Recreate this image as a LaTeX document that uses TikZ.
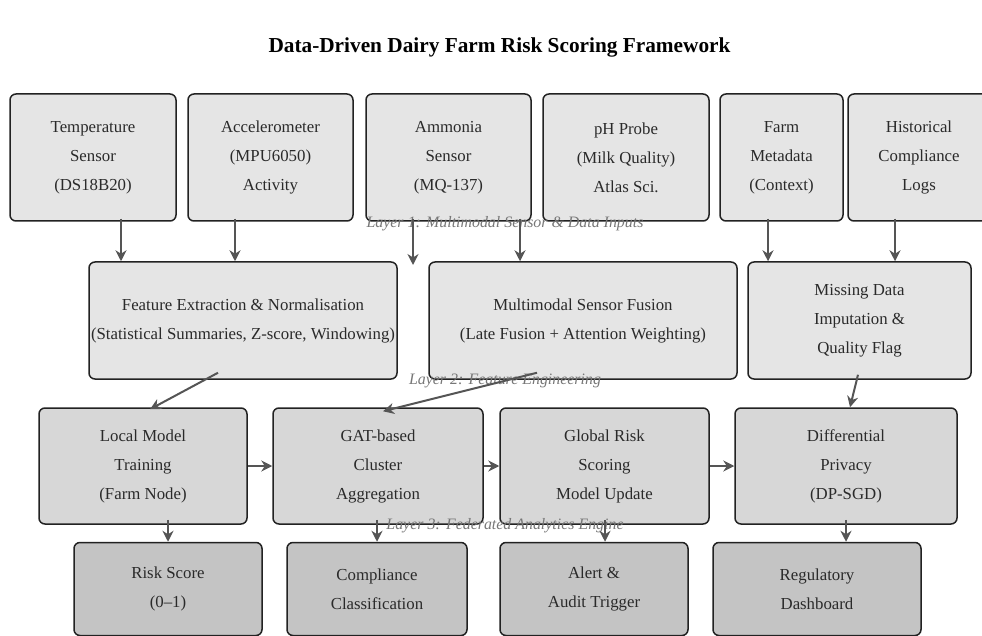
\documentclass[tikz,border=0pt]{standalone}
\usepackage{fontspec}
\setmainfont{Liberation Serif}
\usetikzlibrary{arrows.meta}
\definecolor{fillA}{HTML}{E5E5E5}
\definecolor{fillB}{HTML}{D7D7D7}
\definecolor{fillC}{HTML}{C4C4C4}
\definecolor{edgecol}{HTML}{222222}
\definecolor{txtcol}{HTML}{2A2A2A}
\definecolor{arrcol}{HTML}{555555}
\definecolor{laycol}{HTML}{777777}
\tikzset{
  box/.style={draw=edgecol, line width=1.5pt, rounded corners=6pt, align=center,
    text=txtcol, font=\fontsize{16.8}{29}\selectfont, inner sep=0pt},
  boxA/.style={box, fill=fillA},
  boxB/.style={box, fill=fillB},
  boxC/.style={box, fill=fillC},
  arr/.style={draw=arrcol, line width=2pt, -{Stealth[length=11pt,width=11pt]}},
  layer/.style={text=laycol, font=\fontsize{15.9}{19}\selectfont\itshape},
}
\begin{document}
\begin{tikzpicture}[x=1pt,y=-1pt]
\useasboundingbox (0,0) rectangle (982,636);
\node[font=\fontsize{21.3}{25}\selectfont\bfseries, text=black] (title) at (499.5,47) {Data-Driven Dairy Farm Risk Scoring Framework};
% row 1
\node[boxA, minimum width=166pt, minimum height=127pt] (t1) at (93,157.5) {Temperature\\Sensor\\(DS18B20)};
\node[boxA, minimum width=165pt, minimum height=127pt] (t2) at (270.5,157.5) {Accelerometer\\(MPU6050)\\Activity};
\node[boxA, minimum width=165pt, minimum height=127pt] (t3) at (448.5,157.5) {Ammonia\\Sensor\\(MQ-137)};
\node[boxA, minimum width=166pt, minimum height=127pt] (t4) at (626,157.5) {pH Probe\\(Milk Quality)\\Atlas Sci.};
\node[boxA, minimum width=123pt, minimum height=127pt] (t5) at (781.5,157.5) {Farm\\Metadata\\(Context)};
\node[boxA, minimum width=142pt, minimum height=127pt] (t6) at (919,157.5) {Historical\\Compliance\\Logs};
% row 2
\node[boxA, minimum width=308pt, minimum height=117pt] (f1) at (243,320.5) {Feature Extraction \& Normalisation\\(Statistical Summaries, Z-score, Windowing)};
\node[boxA, minimum width=308pt, minimum height=117pt] (f2) at (583,320.5) {Multimodal Sensor Fusion\\(Late Fusion + Attention Weighting)};
\node[boxA, minimum width=223pt, minimum height=117pt] (f3) at (859.5,320.5) {Missing Data\\Imputation \&\\Quality Flag};
% row 3
\node[boxB, minimum width=208pt, minimum height=116pt] (l1) at (143,466) {Local Model\\Training\\(Farm Node)};
\node[boxB, minimum width=210pt, minimum height=116pt] (l2) at (378,466) {GAT-based\\Cluster\\Aggregation};
\node[boxB, minimum width=209pt, minimum height=116pt] (l3) at (604.5,466) {Global Risk\\Scoring\\Model Update};
\node[boxB, minimum width=222pt, minimum height=116pt] (l4) at (846,466) {Differential\\Privacy\\(DP-SGD)};
% row 4
\node[boxC, minimum width=188pt, minimum height=93pt] (o1) at (168,589) {Risk Score\\(0–1)};
\node[boxC, minimum width=180pt, minimum height=93pt] (o2) at (377,589) {Compliance\\Classification};
\node[boxC, minimum width=188pt, minimum height=93pt] (o3) at (594,589) {Alert \&\\Audit Trigger};
\node[boxC, minimum width=208pt, minimum height=93pt] (o4) at (817,589) {Regulatory\\Dashboard};
% layer labels
\node[layer] (lay1) at (505,224) {Layer 1: Multimodal Sensor \& Data Inputs};
\node[layer] (lay2) at (505,381) {Layer 2: Feature Engineering};
\node[layer] (lay3) at (505,526) {Layer 3: Federated Analytics Engine};
\coordinate (gap) at (413,265);
% arrows row1 -> row2
\draw[arr] ([xshift=28pt,yshift=3pt]t1.south) -- ([xshift=-122pt]f1.north);
\draw[arr] ([xshift=-35.5pt,yshift=3pt]t2.south) -- ([xshift=-8pt]f1.north);
\draw[arr] ([xshift=-35.5pt,yshift=3pt]t3.south) -- (gap);
\draw[arr] ([xshift=71.5pt,yshift=3pt]t3.south) -- ([xshift=-63pt]f2.north);
\draw[arr] ([xshift=-13.5pt,yshift=3pt]t5.south) -- ([xshift=-91.5pt]f3.north);
\draw[arr] ([xshift=-24pt,yshift=3pt]t6.south) -- ([xshift=35.5pt]f3.north);
% row2 -> row3
\draw[arr] ([xshift=-25pt,yshift=7pt]f1.south) -- ([xshift=7pt,yshift=-2pt]l1.north);
\draw[arr] ([xshift=-46pt,yshift=7pt]f2.south) -- ([xshift=5pt,yshift=-4pt]l2.north);
\draw[arr] ([xshift=-1.5pt,yshift=5pt]f3.south) -- ([xshift=4pt]l4.north);
% row3 horizontal
\draw[arr] (l1.east) -- (l2.west);
\draw[arr] (l2.east) -- (l3.west);
\draw[arr] (l3.east) -- (l4.west);
% row3 -> row4
\draw[arr] ([xshift=25pt,yshift=5pt]l1.south) -- (o1.north);
\draw[arr] ([xshift=-1pt,yshift=5pt]l2.south) -- (o2.north);
\draw[arr] ([xshift=0.5pt,yshift=5pt]l3.south) -- ([xshift=11pt]o3.north);
\draw[arr] ([yshift=5pt]l4.south) -- ([xshift=29pt]o4.north);
\end{tikzpicture}
\end{document}
